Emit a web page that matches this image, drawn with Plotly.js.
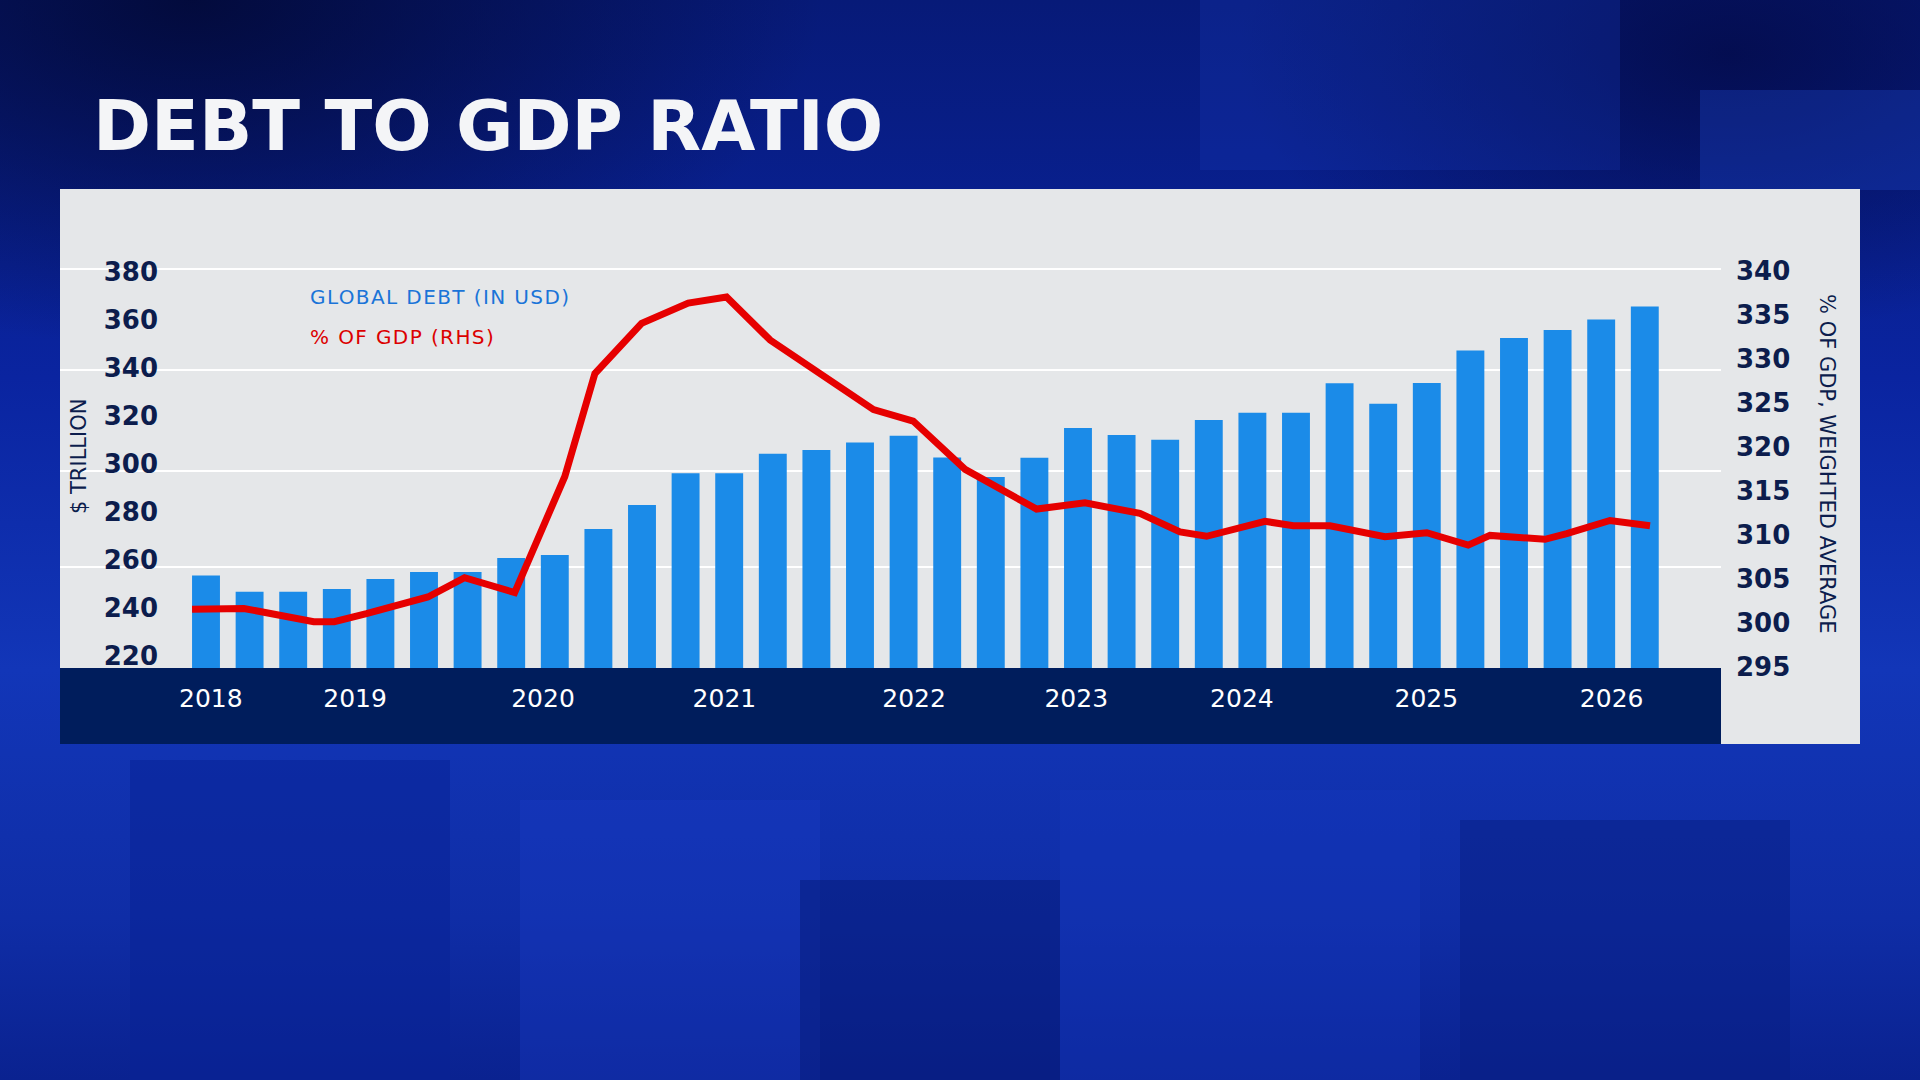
<!DOCTYPE html>
<html>
<head>
<meta charset="utf-8">
<script src="https://cdn.plot.ly/plotly-3.0.1.min.js"></script>
<style>
  html, body { margin: 0; padding: 0; width: 1920px; height: 1080px; overflow: hidden; }
  body {
    background:
      radial-gradient(ellipse 900px 500px at 10% 0%, rgba(2,8,50,0.85), rgba(2,8,50,0) 70%),
      radial-gradient(ellipse 700px 400px at 90% 5%, rgba(3,10,70,0.8), rgba(3,10,70,0) 70%),
      linear-gradient(180deg, #071a78 0%, #0a24a0 35%, #1236b8 62%, #0f2da6 85%, #0a2290 100%);
    position: relative;
  }
  .cube { position: absolute; }
  #chart { position: absolute; left: 0; top: 0; width: 1920px; height: 1080px; }
</style>
</head>
<body>
<div class="cube" style="left:130px;top:760px;width:320px;height:320px;background:rgba(10,35,150,0.55);"></div>
<div class="cube" style="left:520px;top:800px;width:300px;height:280px;background:rgba(25,60,200,0.35);"></div>
<div class="cube" style="left:800px;top:880px;width:260px;height:200px;background:rgba(6,25,120,0.5);"></div>
<div class="cube" style="left:1060px;top:790px;width:360px;height:290px;background:rgba(20,55,190,0.4);"></div>
<div class="cube" style="left:1460px;top:820px;width:330px;height:260px;background:rgba(8,30,130,0.5);"></div>
<div class="cube" style="left:1200px;top:0px;width:420px;height:170px;background:rgba(25,60,190,0.25);"></div>
<div class="cube" style="left:1700px;top:90px;width:220px;height:100px;background:rgba(30,70,200,0.35);"></div>
<div id="chart"></div>
<script>
// ---------------- DATA ----------------
const quarters = [
  'Q1 2018','Q2 2018','Q3 2018','Q4 2018',
  'Q1 2019','Q2 2019','Q3 2019','Q4 2019',
  'Q1 2020','Q2 2020','Q3 2020','Q4 2020',
  'Q1 2021','Q2 2021','Q3 2021','Q4 2021',
  'Q1 2022','Q2 2022','Q3 2022','Q4 2022',
  'Q1 2023','Q2 2023','Q3 2023','Q4 2023',
  'Q1 2024','Q2 2024','Q3 2024','Q4 2024',
  'Q1 2025','Q2 2025','Q3 2025','Q4 2025',
  'Q1 2026','Q2 2026'
];
// Global debt, $ trillion (left axis)
const globalDebt = [
  253.5, 246.7, 246.7, 247.9,
  252.1, 255.0, 255.0, 260.8,
  262.1, 272.9, 282.9, 296.1,
  296.1, 304.2, 305.8, 308.9,
  311.7, 302.6, 294.5, 302.5,
  314.9, 312.0, 310.0, 318.3,
  321.3, 321.3, 333.6, 325.0,
  333.7, 347.2, 352.4, 355.7,
  360.1, 365.5
];
// Debt as % of GDP (right axis); positions measured in quarter-index units
const ratioPos = [
  -0.32, 0.87, 2.47, 2.94, 3.68, 5.09, 5.93, 7.08,
  8.23, 8.92, 9.99, 11.06, 11.94, 12.94, 15.31, 16.22,
  17.41, 19.05, 20.16, 21.42, 22.34, 22.95, 24.29, 24.94,
  25.78, 27.04, 28.00, 28.95, 29.45, 30.71, 31.21, 32.20, 33.12
];
const ratioPct = [
  301.5, 301.6, 300.1, 300.1, 301.0, 302.9, 305.1, 303.4,
  316.6, 328.3, 334.0, 336.3, 337.0, 332.1, 324.2, 322.9,
  317.4, 312.9, 313.6, 312.4, 310.3, 309.8, 311.5, 311.0,
  311.0, 309.75, 310.2, 308.8, 309.9, 309.46, 310.1, 311.6, 311.0
];
const yearTickPos  = [0.11, 3.42, 7.73, 11.89, 16.24, 19.96, 23.76, 27.99, 32.24];
const yearTickText = ['2018','2019','2020','2021','2022','2023','2024','2025','2026'];
const leftTicks  = [220, 240, 260, 280, 300, 320, 340, 360, 380];
const rightTicks = [295, 300, 305, 310, 315, 320, 325, 330, 335, 340];

// ---------------- LAYOUT HELPERS (pixel -> paper) ----------------
const W = 1920, H = 1080;
const px = v => v / W;
const py = v => 1 - v / H;
const gridPx = [269.3, 370, 470.7, 567.3];   // decorative white guide lines
const plotTop = 250, plotBottom = 668, plotLeft = 60, plotRight = 1721;

const navy = '#0c1d4d';

const traces = [
  {
    type: 'bar',
    x: quarters.map((q, i) => i),
    y: globalDebt,
    hovertext: quarters,
    textposition: 'none',
    marker: { color: '#1b8be8' },
    yaxis: 'y',
    hoverinfo: 'skip'
  },
  {
    type: 'scatter',
    mode: 'lines',
    x: ratioPos,
    y: ratioPct,
    line: { color: '#e60000', width: 7 },
    yaxis: 'y2',
    hoverinfo: 'skip'
  },
  { type: 'scatter', x: [], y: [], yaxis: 'y3', showlegend: false }
];

const layout = {
  width: W, height: H,
  margin: { l: 0, r: 0, t: 0, b: 0, pad: 0 },
  paper_bgcolor: 'rgba(0,0,0,0)',
  plot_bgcolor: 'rgba(0,0,0,0)',
  showlegend: false,
  bargap: 0.36,
  xaxis: {
    domain: [px(plotLeft), px(plotRight)],
    range: [-3.3486, 34.748],
    tickvals: yearTickPos,
    ticktext: yearTickText,
    ticks: '',
    showgrid: false, zeroline: false, showline: false,
    tickfont: { family: 'DejaVu Sans', size: 25, color: '#ffffff' },
    ticklabelstandoff: 13
  },
  yaxis: {
    domain: [py(plotBottom), py(plotTop)],
    range: [215.004, 389.03],
    tickvals: leftTicks,
    ticks: '',
    anchor: 'free',
    position: px(160),
    showgrid: false, zeroline: false, showline: false,
    ticklabelstandoff: 2,
    tickfont: { family: 'DejaVu Sans', weight: 'bold', size: 26, color: navy }
  },
  yaxis2: {
    overlaying: 'y',
    side: 'right',
    range: [294.83, 342.34],
    tickvals: rightTicks,
    ticks: '',
    showgrid: false, zeroline: false, showline: false,
    ticklabelstandoff: 14,
    tickfont: { family: 'DejaVu Sans', weight: 'bold', size: 26, color: navy }
  },
  yaxis3: {
    overlaying: 'y',
    range: [plotBottom, plotTop],
    tickvals: gridPx,
    showticklabels: false,
    ticks: '',
    showgrid: true, gridcolor: '#ffffff', gridwidth: 2,
    zeroline: false, showline: false
  },
  shapes: [
    { type: 'rect', xref: 'paper', yref: 'paper', layer: 'below',
      x0: px(60), x1: px(1860), y0: py(744), y1: py(189),
      fillcolor: '#e5e7e9', line: { width: 0 } },
    { type: 'rect', xref: 'paper', yref: 'paper', layer: 'below',
      x0: px(60), x1: px(1721), y0: py(744), y1: py(668),
      fillcolor: '#001d5c', line: { width: 0 } }
  ],
  annotations: [
    { text: 'DEBT TO GDP RATIO', xref: 'paper', yref: 'paper',
      x: px(91), y: py(126), xanchor: 'left', yanchor: 'middle', showarrow: false,
      font: { family: 'DejaVu Sans', weight: 'bold', size: 70, color: '#f4f5f7' } },
    { text: '<span style="letter-spacing:1.4px">GLOBAL DEBT (IN USD)</span>', xref: 'paper', yref: 'paper',
      x: px(308), y: py(297), xanchor: 'left', yanchor: 'middle', showarrow: false,
      font: { family: 'DejaVu Sans', size: 20, color: '#1a74d8' } },
    { text: '<span style="letter-spacing:1.4px">% OF GDP (RHS)</span>', xref: 'paper', yref: 'paper',
      x: px(308), y: py(337), xanchor: 'left', yanchor: 'middle', showarrow: false,
      font: { family: 'DejaVu Sans', size: 20, color: '#dc0000' } },
    { text: '$ TRILLION', xref: 'paper', yref: 'paper', textangle: -90,
      x: px(79), y: py(457), xanchor: 'center', yanchor: 'middle', showarrow: false,
      font: { family: 'DejaVu Sans', size: 21, color: navy } },
    { text: '% OF GDP, WEIGHTED AVERAGE', xref: 'paper', yref: 'paper', textangle: 90,
      x: px(1827), y: py(464), xanchor: 'center', yanchor: 'middle', showarrow: false,
      font: { family: 'DejaVu Sans', size: 21, color: navy } }
  ]
};

Plotly.newPlot('chart', traces, layout, { staticPlot: true, displayModeBar: false });
</script>
</body>
</html>
